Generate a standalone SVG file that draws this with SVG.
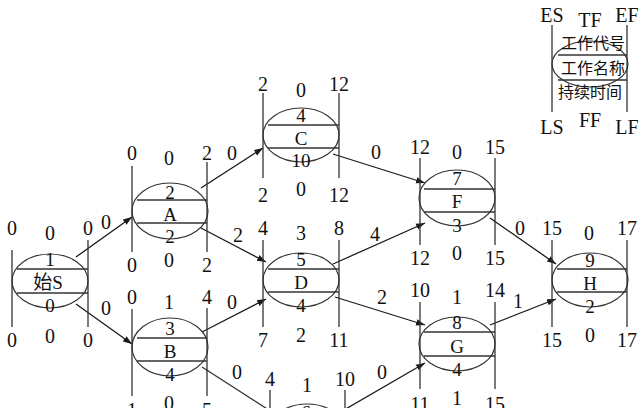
<svg xmlns="http://www.w3.org/2000/svg" width="640" height="408" viewBox="0 0 640 408">
<defs>
<marker id="ah" markerUnits="userSpaceOnUse" markerWidth="10" markerHeight="8" refX="9" refY="4" orient="auto">
<path d="M0,0.8 L9,4 L0,7.2 Z" fill="#1a1a1a"/>
</marker>
</defs>
<style>
text{font-family:"Liberation Serif","Noto Sans CJK SC",serif;fill:#111;text-anchor:middle;dominant-baseline:central}
.lb{font-size:20px}
.in{font-size:19px}
.cj{font-size:16px;font-family:"Noto Sans CJK SC","Liberation Serif",serif}
.el{fill:none;stroke:#333;stroke-width:1.2}
.ln{stroke:#333;stroke-width:1.3;fill:none}
.ar{stroke:#1a1a1a;stroke-width:1.3;fill:none;marker-end:url(#ah)}
</style>
<rect width="640" height="408" fill="#fff"/>

<g id="connectors">
<line class="ar" x1="76" y1="257" x2="132" y2="217"/>
<line class="ar" x1="76" y1="304" x2="132" y2="344"/>
<line class="ar" x1="201" y1="188" x2="263" y2="148"/>
<line class="ar" x1="201" y1="228" x2="266" y2="262"/>
<line class="ar" x1="202" y1="332" x2="266" y2="299"/>
<line class="ln" x1="202" y1="367" x2="272" y2="412"/>
<line class="ar" x1="333" y1="154" x2="425" y2="183"/>
<line class="ar" x1="333" y1="264" x2="425" y2="223"/>
<line class="ar" x1="335" y1="297" x2="425" y2="325"/>
<line class="ar" x1="344" y1="410" x2="425" y2="363"/>
<line class="ar" x1="490" y1="218" x2="556" y2="264"/>
<line class="ar" x1="490" y1="325" x2="556" y2="299"/>
<text class="lb" x="106" y="222">0</text>
<text class="lb" x="106" y="308">0</text>
<text class="lb" x="232" y="153">0</text>
<text class="lb" x="238" y="235">2</text>
<text class="lb" x="232" y="302">0</text>
<text class="lb" x="237" y="372">0</text>
<text class="lb" x="376" y="152">0</text>
<text class="lb" x="375" y="234">4</text>
<text class="lb" x="382" y="297">2</text>
<text class="lb" x="382" y="372">0</text>
<text class="lb" x="520" y="228">0</text>
<text class="lb" x="518" y="301">1</text>
</g>

<g id="legend">
<ellipse class="el" cx="590" cy="64" rx="38" ry="23"/>
<line class="ln" x1="558" y1="55" x2="627" y2="55"/>
<line class="ln" x1="558" y1="80" x2="627" y2="80"/>
<line class="ln" x1="552" y1="25" x2="552" y2="112"/>
<line class="ln" x1="627" y1="25" x2="627" y2="112"/>
<text class="lb" x="552" y="15">ES</text>
<text class="lb" x="590" y="20">TF</text>
<text class="lb" x="627" y="15">EF</text>
<text class="lb" x="552" y="127">LS</text>
<text class="lb" x="590" y="120">FF</text>
<text class="lb" x="627" y="127">LF</text>
<text class="cj" x="593" y="42">工作代号</text>
<text class="cj" x="593" y="67">工作名称</text>
<text class="cj" x="590" y="91">持续时间</text>
</g>

<g id="node-S">
<ellipse class="el" cx="50" cy="281" rx="38" ry="27"/>
<line class="ln" x1="17" y1="269" x2="88" y2="269"/>
<line class="ln" x1="17" y1="293" x2="88" y2="293"/>
<line class="ln" x1="12" y1="250" x2="12" y2="327"/>
<line class="ln" x1="88" y1="240" x2="88" y2="327"/>
<text class="lb" x="12" y="228">0</text>
<text class="lb" x="50" y="233">0</text>
<text class="lb" x="88" y="228">0</text>
<text class="lb" x="12" y="340">0</text>
<text class="lb" x="50" y="336">0</text>
<text class="lb" x="88" y="340">0</text>
<text class="in" x="50" y="259">1</text>
<text class="in" x="48" y="282">始S</text>
<text class="in" x="50" y="305">0</text>
</g>

<g id="node-A">
<ellipse class="el" cx="170" cy="211" rx="38" ry="28"/>
<line class="ln" x1="137" y1="200" x2="207" y2="200"/>
<line class="ln" x1="137" y1="223" x2="207" y2="223"/>
<line class="ln" x1="132" y1="166" x2="132" y2="252"/>
<line class="ln" x1="207" y1="162" x2="207" y2="252"/>
<text class="lb" x="132" y="153">0</text>
<text class="lb" x="169" y="158">0</text>
<text class="lb" x="207" y="153">2</text>
<text class="lb" x="132" y="265">0</text>
<text class="lb" x="169" y="260">0</text>
<text class="lb" x="207" y="265">2</text>
<text class="in" x="170" y="192">2</text>
<text class="in" x="170" y="214">A</text>
<text class="in" x="170" y="236">2</text>
</g>

<g id="node-B">
<ellipse class="el" cx="170" cy="347" rx="38" ry="29"/>
<line class="ln" x1="137" y1="338" x2="207" y2="338"/>
<line class="ln" x1="137" y1="361" x2="207" y2="361"/>
<line class="ln" x1="132" y1="309" x2="132" y2="396"/>
<line class="ln" x1="207" y1="308" x2="207" y2="396"/>
<text class="lb" x="132" y="297">0</text>
<text class="lb" x="169" y="302">1</text>
<text class="lb" x="207" y="297">4</text>
<text class="lb" x="132" y="410">1</text>
<text class="lb" x="169" y="403">0</text>
<text class="lb" x="207" y="410">5</text>
<text class="in" x="170" y="328">3</text>
<text class="in" x="170" y="351">B</text>
<text class="in" x="170" y="374">4</text>
</g>

<g id="node-C">
<ellipse class="el" cx="301" cy="135" rx="38" ry="27"/>
<line class="ln" x1="268" y1="125" x2="339" y2="125"/>
<line class="ln" x1="268" y1="148" x2="339" y2="148"/>
<line class="ln" x1="263" y1="93" x2="263" y2="178"/>
<line class="ln" x1="339" y1="93" x2="339" y2="178"/>
<text class="lb" x="263" y="84">2</text>
<text class="lb" x="301" y="90">0</text>
<text class="lb" x="339" y="84">12</text>
<text class="lb" x="263" y="195">2</text>
<text class="lb" x="301" y="189">0</text>
<text class="lb" x="339" y="195">12</text>
<text class="in" x="301" y="115">4</text>
<text class="in" x="301" y="138">C</text>
<text class="in" x="301" y="160">10</text>
</g>

<g id="node-D">
<ellipse class="el" cx="301" cy="280" rx="38" ry="27"/>
<line class="ln" x1="268" y1="269" x2="339" y2="269"/>
<line class="ln" x1="268" y1="292" x2="339" y2="292"/>
<line class="ln" x1="263" y1="240" x2="263" y2="327"/>
<line class="ln" x1="339" y1="240" x2="339" y2="327"/>
<text class="lb" x="263" y="228">4</text>
<text class="lb" x="301" y="233">3</text>
<text class="lb" x="339" y="228">8</text>
<text class="lb" x="263" y="340">7</text>
<text class="lb" x="301" y="335">2</text>
<text class="lb" x="339" y="340">11</text>
<text class="in" x="301" y="259">5</text>
<text class="in" x="301" y="282">D</text>
<text class="in" x="301" y="305">4</text>
</g>

<g id="node-F">
<ellipse class="el" cx="457" cy="198" rx="38" ry="28"/>
<line class="ln" x1="424" y1="189" x2="495" y2="189"/>
<line class="ln" x1="424" y1="212" x2="495" y2="212"/>
<line class="ln" x1="420" y1="158" x2="420" y2="245"/>
<line class="ln" x1="495" y1="158" x2="495" y2="245"/>
<text class="lb" x="420" y="147">12</text>
<text class="lb" x="457" y="152">0</text>
<text class="lb" x="495" y="147">15</text>
<text class="lb" x="420" y="258">12</text>
<text class="lb" x="457" y="253">0</text>
<text class="lb" x="495" y="258">15</text>
<text class="in" x="457" y="178">7</text>
<text class="in" x="457" y="201">F</text>
<text class="in" x="457" y="225">3</text>
</g>

<g id="node-G">
<ellipse class="el" cx="457" cy="344" rx="38" ry="27"/>
<line class="ln" x1="424" y1="332" x2="495" y2="332"/>
<line class="ln" x1="424" y1="356" x2="495" y2="356"/>
<line class="ln" x1="420" y1="302" x2="420" y2="389"/>
<line class="ln" x1="495" y1="302" x2="495" y2="389"/>
<text class="lb" x="420" y="290">10</text>
<text class="lb" x="457" y="297">1</text>
<text class="lb" x="495" y="290">14</text>
<text class="lb" x="420" y="404">11</text>
<text class="lb" x="457" y="398">1</text>
<text class="lb" x="495" y="404">15</text>
<text class="in" x="457" y="322">8</text>
<text class="in" x="457" y="346">G</text>
<text class="in" x="457" y="369">4</text>
</g>

<g id="node-H">
<ellipse class="el" cx="590" cy="280" rx="38" ry="27"/>
<line class="ln" x1="557" y1="269" x2="627" y2="269"/>
<line class="ln" x1="557" y1="292" x2="627" y2="292"/>
<line class="ln" x1="552" y1="240" x2="552" y2="327"/>
<line class="ln" x1="627" y1="240" x2="627" y2="327"/>
<text class="lb" x="552" y="228">15</text>
<text class="lb" x="589" y="233">0</text>
<text class="lb" x="627" y="228">17</text>
<text class="lb" x="552" y="340">15</text>
<text class="lb" x="590" y="335">0</text>
<text class="lb" x="627" y="340">17</text>
<text class="in" x="590" y="260">9</text>
<text class="in" x="590" y="283">H</text>
<text class="in" x="590" y="306">2</text>
</g>

<g id="node-6">
<ellipse class="el" cx="307" cy="431" rx="38" ry="27"/>
<line class="ln" x1="270" y1="390" x2="270" y2="420"/>
<line class="ln" x1="345" y1="390" x2="345" y2="420"/>
<text class="lb" x="270" y="379">4</text>
<text class="lb" x="307" y="385">1</text>
<text class="lb" x="345" y="379">10</text>
<text class="in" x="306" y="412">6</text>
</g>
</svg>
